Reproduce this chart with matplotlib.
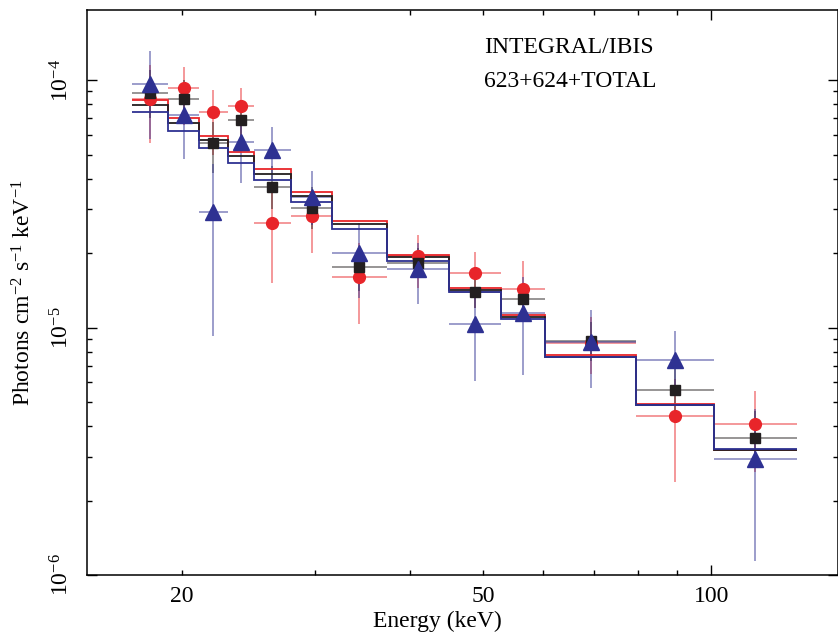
import numpy as np
import matplotlib
matplotlib.use("Agg")
import matplotlib.pyplot as plt
from matplotlib.ticker import LogLocator, FixedLocator, FixedFormatter, NullFormatter

plt.rcParams['font.family'] = ['Liberation Serif', 'DejaVu Serif']
plt.rcParams['mathtext.fontset'] = 'custom'
plt.rcParams['mathtext.rm'] = 'Liberation Serif'
plt.rcParams['mathtext.it'] = 'Liberation Serif:italic'

# energy bin edges (keV)
edges = [17.2, 19.2, 21.1, 23.0, 24.9, 27.9, 31.6, 37.3, 45.1, 52.8, 60.4, 79.6, 100.7, 129.6]

# spectrum 623 (red circles)
red_val = [8.38e-5, 9.25e-5, 7.4e-5, 7.85e-5, 2.64e-5, 2.83e-5, 1.60e-5, 1.95e-5, 1.655e-5, 1.434e-5, 8.7e-6, 4.38e-6, 4.06e-6]
red_lo = [5.56e-5, 6.6e-5, 5.0e-5, 5.8e-5, 1.52e-5, 2.01e-5, 1.035e-5, 1.45e-5, 1.2e-5, 1.05e-5, 6.5e-6, 2.37e-6, 2.6e-6]
red_hi = [1.15e-4, 1.128e-4, 9.08e-5, 9.33e-5, 3.6e-5, 3.6e-5, 2.2e-5, 2.37e-5, 2.02e-5, 1.86e-5, 1.1e-5, 6.2e-6, 5.56e-6]
red_mod = [8.3e-5, 7.0e-5, 5.94e-5, 5.12e-5, 4.36e-5, 3.53e-5, 2.70e-5, 1.96e-5, 1.446e-5, 1.12e-5, 7.73e-6, 4.9e-6, 3.19e-6]

# spectrum 624 (black squares)
blk_val = [8.89e-5, 8.35e-5, 5.55e-5, 6.89e-5, 3.71e-5, 3.05e-5, 1.76e-5, 1.83e-5, 1.39e-5, 1.30e-5, 8.8e-6, 5.59e-6, 3.58e-6]
blk_lo = [7.0e-5, 6.9e-5, 4.2e-5, 5.7e-5, 3.0e-5, 2.5e-5, 1.4e-5, 1.6e-5, 1.2e-5, 1.1e-5, 7.3e-6, 4.4e-6, 2.7e-6]
blk_hi = [1.1e-4, 1.0e-4, 6.8e-5, 8.2e-5, 4.5e-5, 3.7e-5, 2.1e-5, 2.1e-5, 1.6e-5, 1.5e-5, 1.05e-5, 6.9e-6, 4.6e-6]
blk_mod = [7.95e-5, 6.72e-5, 5.72e-5, 4.94e-5, 4.17e-5, 3.4e-5, 2.62e-5, 1.92e-5, 1.416e-5, 1.104e-5, 7.62e-6, 4.88e-6, 3.2e-6]

# total (blue triangles)
blu_val = [9.6e-5, 7.22e-5, 2.94e-5, 5.63e-5, 5.21e-5, 3.38e-5, 2.0e-5, 1.73e-5, 1.03e-5, 1.14e-5, 8.75e-6, 7.39e-6, 2.93e-6]
blu_lo = [5.8e-5, 4.8e-5, 9.25e-6, 3.84e-5, 4.0e-5, 2.6e-5, 1.32e-5, 1.25e-5, 6.09e-6, 6.44e-6, 5.69e-6, 5.3e-6, 1.14e-6]
blu_hi = [1.306e-4, 9.5e-5, 4.6e-5, 7.2e-5, 6.45e-5, 4.31e-5, 2.64e-5, 2.2e-5, 1.4e-5, 1.6e-5, 1.18e-5, 9.64e-6, 4.7e-6]
blu_mod = [7.4e-5, 6.24e-5, 5.32e-5, 4.62e-5, 3.94e-5, 3.22e-5, 2.50e-5, 1.855e-5, 1.386e-5, 1.08e-5, 7.57e-6, 4.86e-6, 3.22e-6]

RED = '#e8252a'
BLK = '#231f20'
BLU = '#2e3192'

e = np.array(edges)
xc = np.sqrt(e[:-1] * e[1:])
xerr = [xc - e[:-1], e[1:] - xc]

fig = plt.figure(figsize=(8.38, 6.32), dpi=100)
ax = fig.add_axes([87 / 838, 1 - 575 / 632, (838 - 87) / 838, (575 - 10) / 632])

series = [
    (red_val, red_lo, red_hi, red_mod, RED, 'o', 8.5),
    (blk_val, blk_lo, blk_hi, blk_mod, BLK, 's', 6.5),
    (blu_val, blu_lo, blu_hi, blu_mod, BLU, '^', 11.5),
]

# error bars
for val, lo, hi, mod, col, mk, ms in series:
    v = np.array(val)
    yerr = [v - np.array(lo), np.array(hi) - v]
    ax.errorbar(xc, v, xerr=xerr, yerr=yerr, fmt='none', ecolor=col,
                elinewidth=1.1, alpha=0.6, zorder=2)

# model steps
for val, lo, hi, mod, col, mk, ms in series:
    ax.stairs(mod, edges, color=col, lw=1.3, baseline=None, zorder=3)

# markers
for val, lo, hi, mod, col, mk, ms in series:
    ax.plot(xc, val, linestyle='none', marker=mk, ms=ms, color=col,
            mec=col, zorder=4)

ax.set_xscale('log')
ax.set_yscale('log')
ax.set_xlim(15, 147)
ax.set_ylim(1e-6, 1.92e-4)

# decade tick long, others short; 20 and 50 labelled as minor ticks
ax.xaxis.set_major_locator(FixedLocator([100]))
ax.xaxis.set_major_formatter(FixedFormatter(['100']))
ax.xaxis.set_minor_locator(FixedLocator([20, 30, 40, 50, 60, 70, 80, 90]))
ax.xaxis.set_minor_formatter(FixedFormatter(['20', '', '', '50', '', '', '', '']))
ax.yaxis.set_major_locator(LogLocator(base=10))
ax.yaxis.set_minor_locator(LogLocator(base=10, subs=np.arange(2, 10)))
ax.yaxis.set_minor_formatter(NullFormatter())

ax.tick_params(which='both', direction='in', top=True, right=True, labelsize=17, width=1)
ax.tick_params(which='major', length=7)
ax.tick_params(which='minor', length=3.6)
for lbl in ax.get_yticklabels():
    lbl.set_rotation(90)
    lbl.set_va('center')
ax.tick_params(axis='y', which='both', pad=10)
ax.tick_params(axis='x', which='both', pad=8)
for s in ax.spines.values():
    s.set_linewidth(1.1)

ax.set_xlabel('Energy (keV)', fontsize=17)
ax.xaxis.set_label_coords(0.467, -0.063)
ax.set_ylabel('Photons cm$^{-2}$ s$^{-1}$ keV$^{-1}$', fontsize=17)
ax.yaxis.set_label_coords(-0.068, 0.5)

ax.text(0.529, 0.934, 'INTEGRAL/IBIS', transform=ax.transAxes, fontsize=17, va='center')
ax.text(0.529, 0.873, '623+624+TOTAL', transform=ax.transAxes, fontsize=17, va='center')

fig.savefig('out.png', dpi=100)
